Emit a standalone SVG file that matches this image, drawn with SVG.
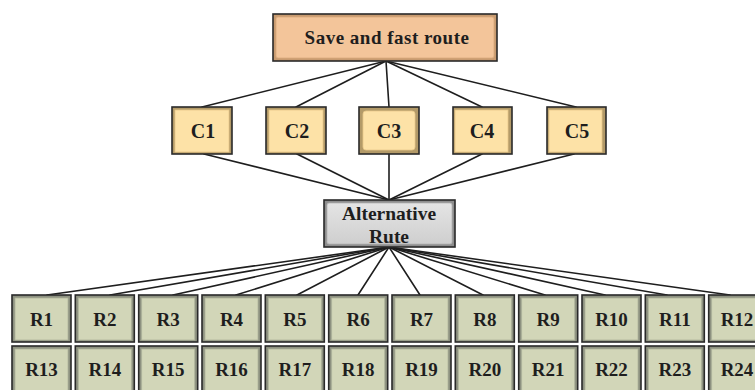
<svg xmlns="http://www.w3.org/2000/svg" width="755" height="390" viewBox="0 0 755 390">
  <defs>
    <linearGradient id="gradAlt" x1="0" y1="0" x2="0" y2="1">
      <stop offset="0" stop-color="#e4e4e4"/>
      <stop offset="1" stop-color="#cfcfcf"/>
    </linearGradient>
  </defs>
  <style>
    .frame { stroke: #2a2a2a; stroke-width: 1.6; }
    .inner { stroke-width: 0.8; }
    .top-o { fill: #c89b70; }
    .top-i { fill: #f3c59a; stroke: #d9a97c; }
    .c-o { fill: #b39a68; }
    .c-i { fill: #fde2a7; stroke: #e8c98a; }
    .a-o { fill: #8e8e8e; }
    .a-i { fill: url(#gradAlt); stroke: #b4b4b4; }
    .r-o { fill: #8d9180; }
    .r-i { fill: #d2d6b8; stroke: #b0b49c; }
    .lbl { font-family: "Liberation Serif", "DejaVu Serif", serif; font-weight: bold; fill: #1e1e1e; text-anchor: middle; }
    .big { font-size: 19px; letter-spacing: 0.5px; }
    .mid { font-size: 20px; }
    .alt { font-size: 19.5px; }
    .sm { font-size: 19px; }
    .conn line { stroke: #1e1e1e; stroke-width: 1.6; stroke-linecap: round; }
  </style>

  <!-- connectors -->
  <g id="connectors" class="conn">
    <!-- top box to criteria -->
    <line x1="386" y1="61" x2="202" y2="107"/>
    <line x1="386" y1="61" x2="296" y2="107"/>
    <line x1="386" y1="61" x2="389" y2="107"/>
    <line x1="386" y1="61" x2="482" y2="107"/>
    <line x1="386" y1="61" x2="576" y2="107"/>
    <!-- criteria to alternative -->
    <line x1="204" y1="154" x2="389" y2="200"/>
    <line x1="297" y1="154" x2="389" y2="200"/>
    <line x1="389" y1="154" x2="389" y2="200"/>
    <line x1="482" y1="154" x2="389" y2="200"/>
    <line x1="574" y1="154" x2="389" y2="200"/>
    <!-- alternative to routes -->
    <line x1="389" y1="247" x2="47" y2="295"/>
    <line x1="389" y1="247" x2="110" y2="295"/>
    <line x1="389" y1="247" x2="173" y2="295"/>
    <line x1="389" y1="247" x2="236" y2="295"/>
    <line x1="389" y1="247" x2="297" y2="295"/>
    <line x1="389" y1="247" x2="358" y2="295"/>
    <line x1="389" y1="247" x2="420" y2="295"/>
    <line x1="389" y1="247" x2="483" y2="295"/>
    <line x1="389" y1="247" x2="545" y2="295"/>
    <line x1="389" y1="247" x2="605" y2="295"/>
    <line x1="389" y1="247" x2="667" y2="295"/>
    <line x1="389" y1="247" x2="730" y2="295"/>
  </g>

  <!-- goal -->
  <g id="goal">
    <rect class="frame top-o" x="273" y="14" width="224" height="47"/>
    <rect class="inner top-i" x="276" y="17" width="218" height="41" rx="2"/>
    <text class="lbl big" x="387" y="44">Save and fast route</text>
  </g>

  <!-- criteria -->
  <g id="c1">
    <rect class="frame c-o" x="172" y="107" width="60" height="47"/>
    <rect class="inner c-i" x="175" y="110" width="54" height="42"/>
    <text class="lbl mid" x="203" y="138">C1</text>
  </g>
  <g id="c2">
    <rect class="frame c-o" x="266" y="107" width="60" height="47"/>
    <rect class="inner c-i" x="269" y="110" width="54" height="42"/>
    <text class="lbl mid" x="297" y="138">C2</text>
  </g>
  <g id="c3">
    <rect class="frame c-o" x="359" y="107" width="60" height="47"/>
    <rect class="inner c-i" x="363" y="111" width="52" height="39" rx="3"/>
    <text class="lbl mid" x="389" y="138">C3</text>
  </g>
  <g id="c4">
    <rect class="frame c-o" x="453" y="107" width="59" height="47"/>
    <rect class="inner c-i" x="455" y="110" width="53" height="42"/>
    <text class="lbl mid" x="482" y="138">C4</text>
  </g>
  <g id="c5">
    <rect class="frame c-o" x="547" y="107" width="59" height="47"/>
    <rect class="inner c-i" x="549" y="110" width="53" height="42"/>
    <text class="lbl mid" x="577" y="138">C5</text>
  </g>

  <!-- alternative -->
  <g id="alternative">
    <rect class="frame a-o" x="324" y="200" width="131" height="47"/>
    <rect class="inner a-i" x="327" y="203" width="125" height="41" rx="2"/>
    <text class="lbl alt" x="389" y="220">Alternative</text>
    <text class="lbl alt" x="389" y="243">Rute</text>
  </g>

  <!-- routes, row 1 -->
  <g id="r1"><rect class="frame r-o" x="12" y="295" width="59" height="47"/><rect class="inner r-i" x="15" y="298" width="53" height="42"/><text class="lbl sm" x="41.5" y="326">R1</text></g>
  <g id="r2"><rect class="frame r-o" x="75.3" y="295" width="59" height="47"/><rect class="inner r-i" x="78.3" y="298" width="53" height="42"/><text class="lbl sm" x="104.8" y="326">R2</text></g>
  <g id="r3"><rect class="frame r-o" x="138.7" y="295" width="59" height="47"/><rect class="inner r-i" x="141.7" y="298" width="53" height="42"/><text class="lbl sm" x="168.2" y="326">R3</text></g>
  <g id="r4"><rect class="frame r-o" x="202" y="295" width="59" height="47"/><rect class="inner r-i" x="205" y="298" width="53" height="42"/><text class="lbl sm" x="231.5" y="326">R4</text></g>
  <g id="r5"><rect class="frame r-o" x="265.3" y="295" width="59" height="47"/><rect class="inner r-i" x="268.3" y="298" width="53" height="42"/><text class="lbl sm" x="294.8" y="326">R5</text></g>
  <g id="r6"><rect class="frame r-o" x="328.7" y="295" width="59" height="47"/><rect class="inner r-i" x="331.7" y="298" width="53" height="42"/><text class="lbl sm" x="358.2" y="326">R6</text></g>
  <g id="r7"><rect class="frame r-o" x="392" y="295" width="59" height="47"/><rect class="inner r-i" x="395" y="298" width="53" height="42"/><text class="lbl sm" x="421.5" y="326">R7</text></g>
  <g id="r8"><rect class="frame r-o" x="455.3" y="295" width="59" height="47"/><rect class="inner r-i" x="458.3" y="298" width="53" height="42"/><text class="lbl sm" x="484.8" y="326">R8</text></g>
  <g id="r9"><rect class="frame r-o" x="518.7" y="295" width="59" height="47"/><rect class="inner r-i" x="521.7" y="298" width="53" height="42"/><text class="lbl sm" x="548.2" y="326">R9</text></g>
  <g id="r10"><rect class="frame r-o" x="582" y="295" width="59" height="47"/><rect class="inner r-i" x="585" y="298" width="53" height="42"/><text class="lbl sm" x="611.5" y="326">R10</text></g>
  <g id="r11"><rect class="frame r-o" x="645.3" y="295" width="59" height="47"/><rect class="inner r-i" x="648.3" y="298" width="53" height="42"/><text class="lbl sm" x="674.8" y="326">R11</text></g>
  <g id="r12"><rect class="frame r-o" x="708.7" y="295" width="59" height="47"/><rect class="inner r-i" x="711.7" y="298" width="53" height="42"/><text class="lbl sm" x="737" y="326">R12</text></g>

  <!-- routes, row 2 -->
  <g id="r13"><rect class="frame r-o" x="12" y="346" width="59" height="47"/><rect class="inner r-i" x="15" y="349" width="53" height="42"/><text class="lbl sm" x="41.5" y="376">R13</text></g>
  <g id="r14"><rect class="frame r-o" x="75.3" y="346" width="59" height="47"/><rect class="inner r-i" x="78.3" y="349" width="53" height="42"/><text class="lbl sm" x="104.8" y="376">R14</text></g>
  <g id="r15"><rect class="frame r-o" x="138.7" y="346" width="59" height="47"/><rect class="inner r-i" x="141.7" y="349" width="53" height="42"/><text class="lbl sm" x="168.2" y="376">R15</text></g>
  <g id="r16"><rect class="frame r-o" x="202" y="346" width="59" height="47"/><rect class="inner r-i" x="205" y="349" width="53" height="42"/><text class="lbl sm" x="231.5" y="376">R16</text></g>
  <g id="r17"><rect class="frame r-o" x="265.3" y="346" width="59" height="47"/><rect class="inner r-i" x="268.3" y="349" width="53" height="42"/><text class="lbl sm" x="294.8" y="376">R17</text></g>
  <g id="r18"><rect class="frame r-o" x="328.7" y="346" width="59" height="47"/><rect class="inner r-i" x="331.7" y="349" width="53" height="42"/><text class="lbl sm" x="358.2" y="376">R18</text></g>
  <g id="r19"><rect class="frame r-o" x="392" y="346" width="59" height="47"/><rect class="inner r-i" x="395" y="349" width="53" height="42"/><text class="lbl sm" x="421.5" y="376">R19</text></g>
  <g id="r20"><rect class="frame r-o" x="455.3" y="346" width="59" height="47"/><rect class="inner r-i" x="458.3" y="349" width="53" height="42"/><text class="lbl sm" x="484.8" y="376">R20</text></g>
  <g id="r21"><rect class="frame r-o" x="518.7" y="346" width="59" height="47"/><rect class="inner r-i" x="521.7" y="349" width="53" height="42"/><text class="lbl sm" x="548.2" y="376">R21</text></g>
  <g id="r22"><rect class="frame r-o" x="582" y="346" width="59" height="47"/><rect class="inner r-i" x="585" y="349" width="53" height="42"/><text class="lbl sm" x="611.5" y="376">R22</text></g>
  <g id="r23"><rect class="frame r-o" x="645.3" y="346" width="59" height="47"/><rect class="inner r-i" x="648.3" y="349" width="53" height="42"/><text class="lbl sm" x="674.8" y="376">R23</text></g>
  <g id="r24"><rect class="frame r-o" x="708.7" y="346" width="59" height="47"/><rect class="inner r-i" x="711.7" y="349" width="53" height="42"/><text class="lbl sm" x="737" y="376">R24</text></g>
</svg>
